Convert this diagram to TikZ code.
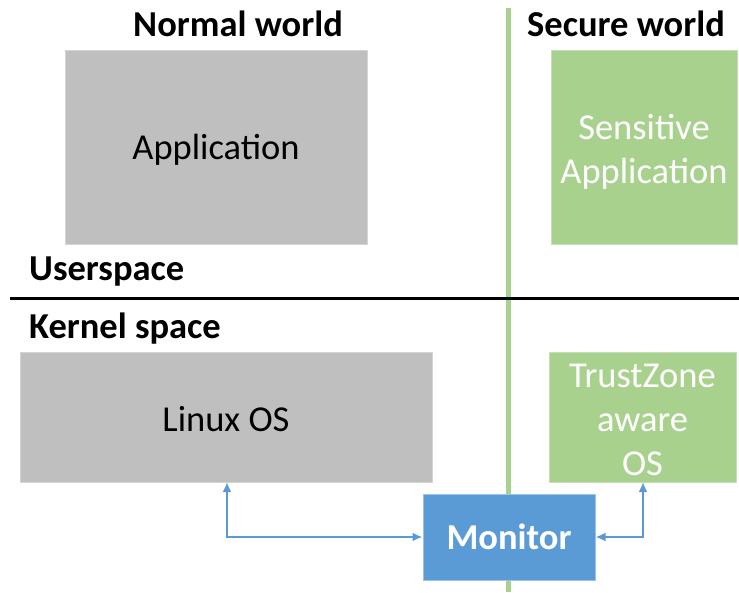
\documentclass[tikz,border=0pt]{standalone}
\usepackage{fontspec}
\setmainfont{Carlito}
\usetikzlibrary{arrows.meta}
\definecolor{boxgray}{HTML}{BFBFBF}
\definecolor{boxgreen}{HTML}{A9D18E}
\definecolor{boxblue}{HTML}{5B9BD5}
\definecolor{edgegray}{HTML}{D4D4D4}
\definecolor{edgegreen}{HTML}{C5E0B4}
\definecolor{edgeblue}{HTML}{9DC3E6}
\newcommand{\bigsz}{\fontsize{36.5}{44}\selectfont}
\tikzset{
  box/.style={draw, line width=1pt, inner sep=0pt},
  graybox/.style={box, fill=boxgray, draw=edgegray},
  greenbox/.style={box, fill=boxgreen, draw=edgegreen},
  bluebox/.style={box, fill=boxblue, draw=edgeblue, text=white, font=\bigsz\bfseries},
  darktext/.style={inner sep=0pt, align=center, font=\bigsz, text=black},
  lighttext/.style={inner sep=0pt, align=center, font=\bigsz, text=white},
  titletext/.style={inner sep=0pt, font=\bigsz\bfseries},
  sidelabel/.style={inner sep=0pt, anchor=west, font=\bigsz\bfseries},
  biarrow/.style={draw=boxblue, line width=2pt, {Latex[length=10pt,width=9pt]}-{Latex[length=10pt,width=9pt]}}
}
\begin{document}
\begin{tikzpicture}[x=1pt,y=-1pt]
\useasboundingbox (0,0) rectangle (739,592);
% divider lines
\coordinate (vtop) at (508,8);
\coordinate (vbot) at (508,592);
\draw[boxgreen, line width=5pt] (vtop) -- (vbot);
\coordinate (hl) at (10,298);
\coordinate (hr) at (739,298);
\draw[black, line width=3pt] (hl) -- (hr);
% titles
\node[titletext] (nw) at (238,24) {Normal world};
\node[titletext] (sw) at (626,24) {Secure world};
\node[sidelabel] (us) at (29,272) {Userspace};
\node[sidelabel] (ks) at (29,329) {Kernel space};
% boxes
\node[graybox, minimum width=302pt, minimum height=194pt,
  label={[darktext, yshift=-3pt]center:Application}] (app) at (216,147) {};
\node[greenbox, minimum width=186pt, minimum height=194pt,
  label={[lighttext, yshift=-5pt]center:Sensitive\\Application}] (sapp) at (644,147) {};
\node[graybox, minimum width=412pt, minimum height=130pt,
  label={[darktext, yshift=-2pt]center:Linux OS}] (linux) at (226,417) {};
\node[greenbox, minimum width=187pt, minimum height=130pt,
  label={[lighttext, yshift=-2.5pt]center:TrustZone\\aware\\OS}] (tz) at (642.5,417) {};
\node[bluebox, minimum width=172pt, minimum height=86pt] (mon) at (509,537) {Monitor};
% arrows
\coordinate (la) at (227,482);
\coordinate (ra) at (643,482);
\draw[biarrow] (la) |- (mon.west);
\draw[biarrow] (mon.east) -| (ra);
\end{tikzpicture}
\end{document}
